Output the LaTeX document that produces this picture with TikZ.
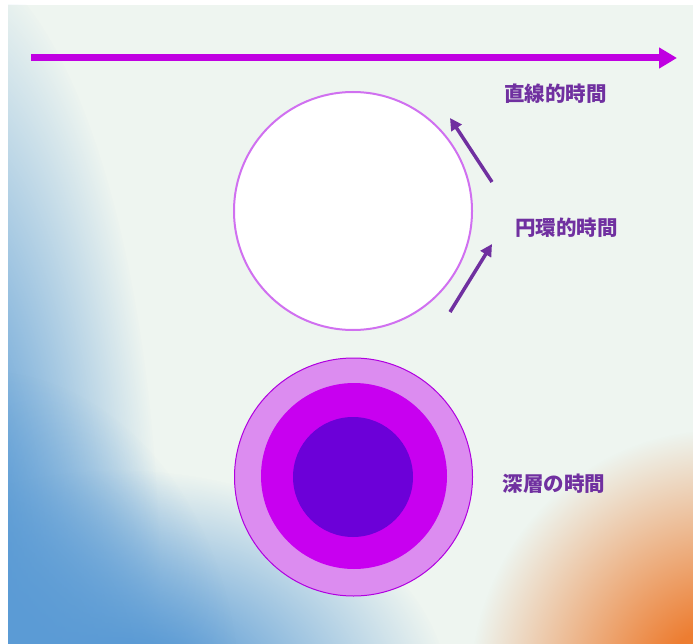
\documentclass[tikz,border=0pt]{standalone}
\usepackage{fontspec}
\newfontfamily\jp{Noto Sans CJK JP}
\usetikzlibrary{arrows.meta,fadings}
\definecolor{bg}{HTML}{EEF5F0}
\definecolor{linecol}{HTML}{C000E2}
\definecolor{txtpurple}{HTML}{7030A0}
\definecolor{circlestroke}{HTML}{D070F0}
\definecolor{ringA}{HTML}{DC8CF0}
\definecolor{ringB}{HTML}{C800F0}
\definecolor{ringC}{HTML}{6C00D8}
\definecolor{ringedge}{HTML}{B000E0}
\definecolor{bluebg}{HTML}{5B9BD5}
\definecolor{orangebg}{HTML}{ED7D31}
\pgfdeclareradialshading{glowshade}{\pgfpointorigin}{color(0bp)=(white); color(6bp)=(white); color(25bp)=(black); color(50bp)=(black)}
\pgfdeclarefading{glowfade}{\pgfuseshading{glowshade}}
\begin{document}
\begin{tikzpicture}[x=1pt,y=-1pt,
  lbl/.style={font=\jp\bfseries\fontsize{20.5pt}{22pt}\selectfont, text=txtpurple, inner sep=0pt},
  timearrow/.style={line width=7pt, draw=linecol, -{Triangle[length=18pt,width=20pt]}},
  cycarrow/.style={line width=3.5pt, draw=txtpurple, -{Triangle[length=12pt,width=12pt]}},
  disc/.style={circle, inner sep=0pt},
  glow/.style={path fading=glowfade},
]
\useasboundingbox (0,0) rectangle (693,644);
\fill[white] (0,0) rectangle (693,644);
\fill[bg] (8,5) rectangle (693,644);
\begin{scope}
  \clip (8,5) rectangle (693,644);
  \fill[bluebg, glow] (-60,600) ellipse [x radius=220pt, y radius=650pt];
  \fill[bluebg, glow] (120,700) ellipse [x radius=330pt, y radius=230pt];
  \fill[bluebg, glow] (-20,700) ellipse [x radius=260pt, y radius=330pt];
  \fill[orangebg, glow] (720,690) ellipse [x radius=250pt, y radius=260pt];
\end{scope}
% linear time
\coordinate (ls) at (31,58);
\coordinate (le) at (677,58);
\draw[timearrow] (ls) -- (le);
% cyclic time
\node[disc, minimum size=238pt, fill=white, draw=circlestroke, line width=2pt] (cyc) at (353,211) {};
\coordinate (a1s) at (492,182);
\coordinate (a1e) at (450,118);
\coordinate (a2s) at (450,312);
\coordinate (a2e) at (492,244);
\draw[cycarrow] (a1s) -- (a1e);
\draw[cycarrow] (a2s) -- (a2e);
% deep time
\node[disc, minimum size=238pt, fill=ringA, draw=ringedge, line width=1pt] (outer) at (353.5,477) {};
\node[disc, minimum size=186pt, fill=ringB] (middle) at (354,476) {};
\node[disc, minimum size=120pt, fill=ringC] (inner) at (353,477) {};
% labels
\node[lbl] (l1) at (555.5,94) {直線的時間};
\node[lbl] (l2) at (566.5,228) {円環的時間};
\node[lbl] (l3) at (554,484) {深層の時間};
\end{tikzpicture}
\end{document}
